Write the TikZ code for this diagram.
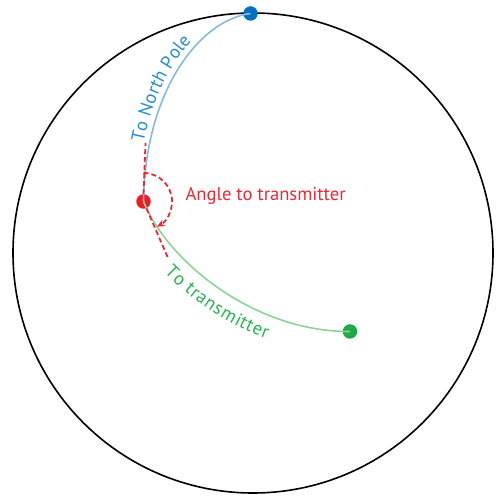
\documentclass[tikz,border=0pt]{standalone}
\usepackage{fontspec}
\setmainfont{PT Sans}
\usetikzlibrary{arrows.meta,decorations.text}
\definecolor{bluedot}{RGB}{0,112,192}
\definecolor{blueline}{RGB}{135,185,228}
\definecolor{bluetext}{RGB}{40,140,210}
\definecolor{reddot}{RGB}{237,28,36}
\definecolor{redline}{RGB}{237,40,50}
\definecolor{greendot}{RGB}{30,170,70}
\definecolor{greenline}{RGB}{140,212,150}
\definecolor{greentext}{RGB}{40,180,80}
\tikzset{
  dot/.style={circle,fill=#1,inner sep=0pt,minimum size=14.5pt},
  reddash/.style={draw=redline,line width=1.8pt,dash pattern=on 5pt off 3pt},
  lbl/.style={font=\fontsize{18.6}{20}\selectfont}
}
\begin{document}
\begin{tikzpicture}[x=1pt,y=1pt]
\useasboundingbox (0,0) rectangle (504,498);
\draw[line width=1.6pt] (253,245) circle[radius=240];
\node[dot=reddot] (r) at (143.5,296.5) {};
\node[dot=bluedot] (n) at (250.5,484.5) {};
\node[dot=greendot] (g) at (350,166.5) {};
\coordinate (up) at (145.5,355);
\coordinate (down) at (168,240);
% curves
\draw[blueline,line width=1.6pt] (r.center) .. controls (145,408) and (200,478) .. (n.center);
\draw[greenline,line width=1.6pt] (r.center) .. controls (168,236) and (255,166) .. (g.center);
% tangent dashed lines
\draw[reddash] (r.north) -- (up);
\draw[reddash] (r) -- (down);
% angle arc
\draw[reddash,-{Stealth[length=8pt,width=7pt]}] ([shift={(90:28.5pt)}]r.center) arc[start angle=90,end angle=-62,radius=28.5pt];
\node[lbl,text=redline,anchor=base west] (a) at (182,297) {Angle to transmitter};
% texts along paths
\path[decorate,decoration={text along path,raise=6pt,text align={left indent=58pt},text color=bluetext,
  text={|\fontsize{18.6}{20}\selectfont|To North Pole}}]
  (r.center) .. controls (145,408) and (200,478) .. (n.center);
\path[decorate,decoration={text along path,raise=-23pt,text align={left indent=66pt},text color=greentext,
  text={|\fontsize{18.6}{20}\selectfont|To transmitter}}]
  (r.center) .. controls (168,236) and (255,166) .. (g.center);
\end{tikzpicture}
\end{document}
